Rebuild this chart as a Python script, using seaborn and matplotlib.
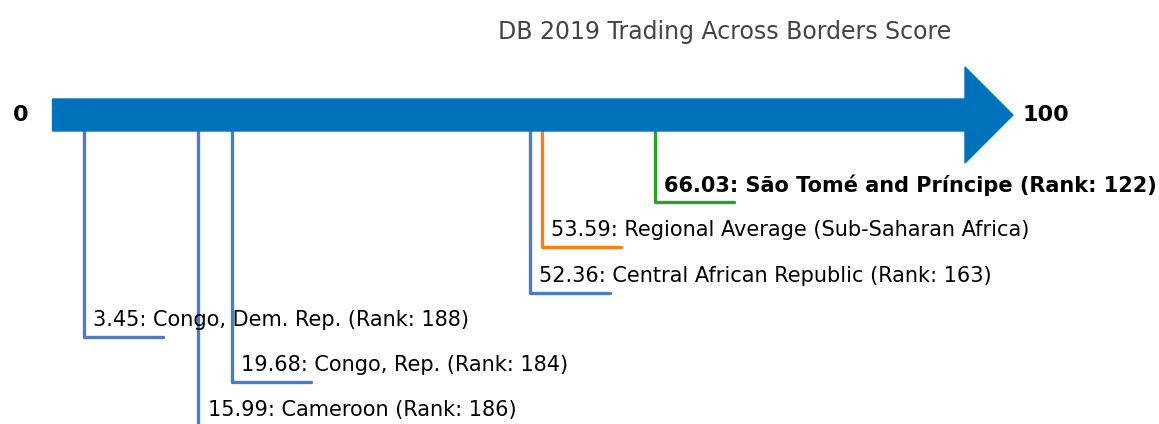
import numpy as np
import pandas as pd
import matplotlib
matplotlib.use("Agg")
import matplotlib.pyplot as plt
import matplotlib.patches as mpatches
import seaborn as sns

# data
labels = ["São Tomé and Príncipe (Rank: 122)",
          "Regional Average (Sub-Saharan Africa)",
          "Central African Republic (Rank: 163)",
          "Congo, Dem. Rep. (Rank: 188)",
          "Congo, Rep. (Rank: 184)",
          "Cameroon (Rank: 186)"]
scores = [66.03, 53.59, 52.36, 3.45, 19.68, 15.99]
groups = ["focus", "region", "peer", "peer", "peer", "peer"]
levels = [202, 247, 293, 337, 382, 427]   # label row (pixels from top)

palette = {"focus": "#2CA02C", "region": "#FF7F0E", "peer": "#4E7CC0"}

sns.set_style("white")
plt.rcParams['font.family'] = ['DejaVu Sans']

fig = plt.figure(figsize=(11.59, 4.24), dpi=100)
ax = fig.add_axes([0, 0, 1, 1])

# pixel -> score scale
x0, px_per_unit = 52.5, 9.125

# arrow
arrow_y = 115
arrow = mpatches.FancyArrow(0, arrow_y, (1013 - x0) / px_per_unit, 0,
                            width=32, head_width=96, head_length=48 / px_per_unit,
                            length_includes_head=True, color="#0072BC", zorder=3)
ax.add_patch(arrow)
ax.text(-3.5, arrow_y, "0", fontsize=16, fontweight="bold", color="black",
        ha="center", va="center")
ax.text(106.3, arrow_y, "100", fontsize=16, fontweight="bold", color="black",
        ha="left", va="center")

# connectors
stub = 8.7
rows = []
for i, (s, lv, g) in enumerate(zip(scores, levels, groups)):
    for j, (xx, yy) in enumerate([(s, 131), (s, lv), (s + stub, lv)]):
        rows.append({"id": i, "order": j, "x": xx, "y": yy, "group": g})
df = pd.DataFrame(rows)
sns.lineplot(data=df, x="x", y="y", hue="group", units="id", estimator=None,
             sort=False, palette=palette, linewidth=2.4, legend=False, ax=ax, zorder=2)
ax.set_xlim(-x0 / px_per_unit, (1159 - x0) / px_per_unit)
ax.set_ylim(424, 0)
ax.axis("off")

for s, lv, lab, g in zip(scores, levels, labels, groups):
    ax.text(s + 1.0, lv - 17, f"{s:.2f}: {lab}", fontsize=15,
            fontweight="bold" if g == "focus" else "normal",
            ha="left", va="center", color="black", zorder=4)

ax.text(0.625, 0.925, "DB 2019 Trading Across Borders Score", transform=fig.transFigure,
        fontsize=17, color="#444444", ha="center", va="center")

fig.savefig("out.png", dpi=100)
